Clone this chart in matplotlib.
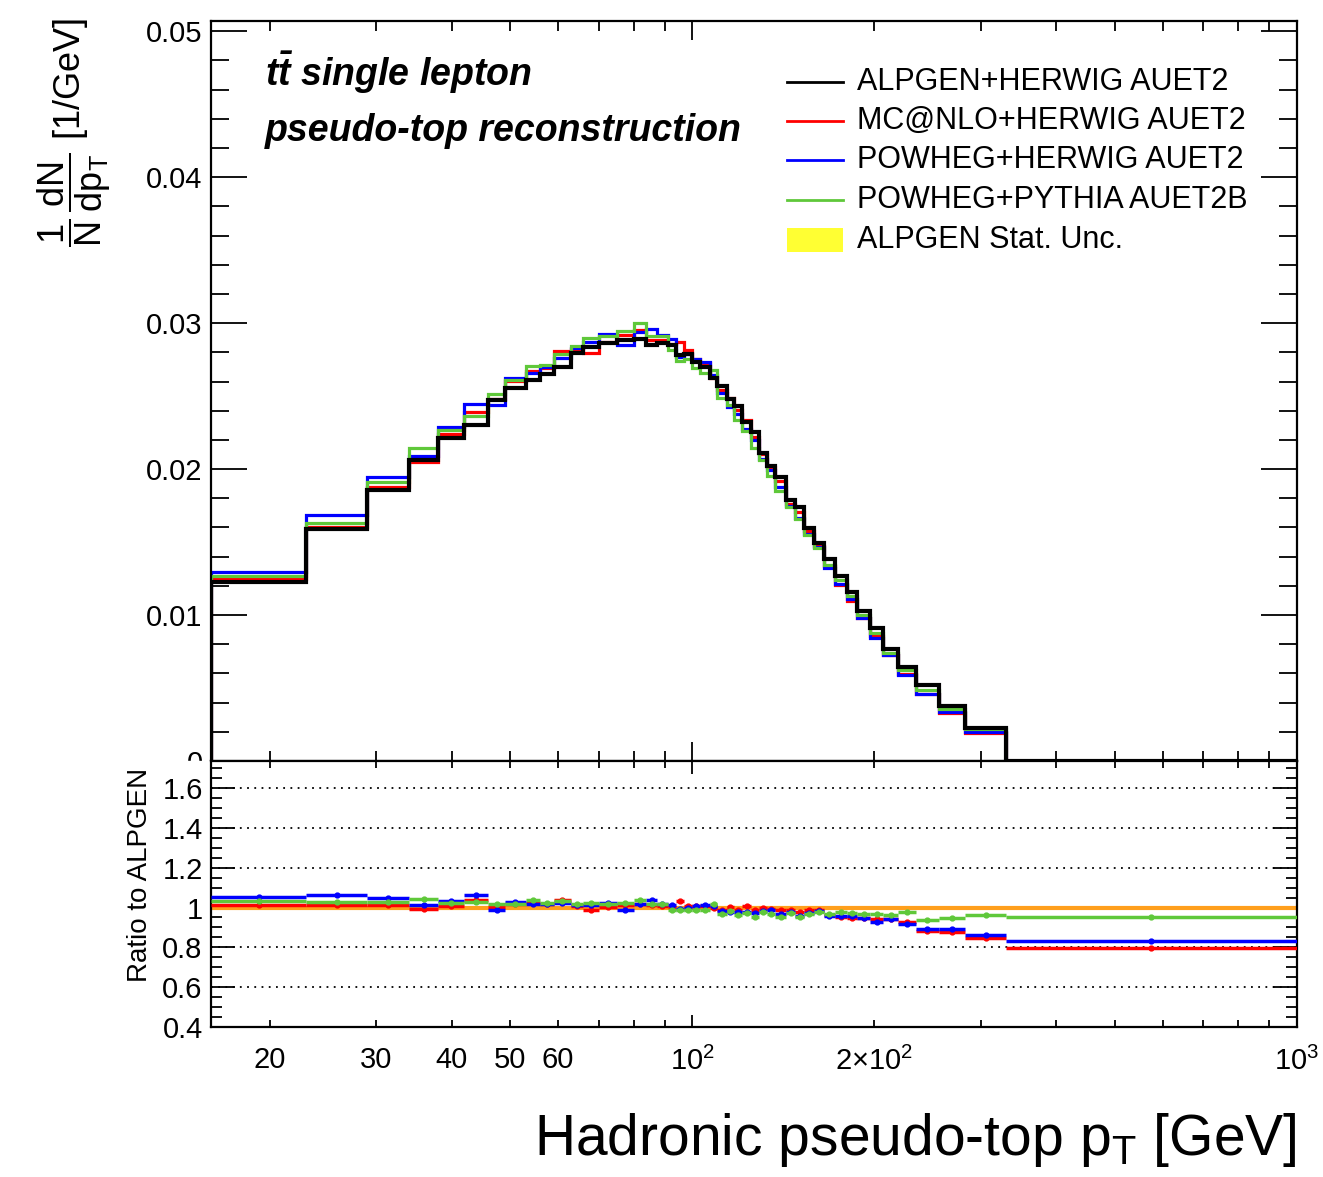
import matplotlib
matplotlib.use("Agg")
import matplotlib.pyplot as plt
import numpy as np
from matplotlib.patches import Rectangle

plt.rcParams["font.family"] = ["Liberation Sans", "DejaVu Sans"]
plt.rcParams["mathtext.fontset"] = "custom"
plt.rcParams["mathtext.rm"] = "Liberation Sans"
plt.rcParams["mathtext.it"] = "Liberation Sans:italic"
plt.rcParams["mathtext.bf"] = "Liberation Sans:bold"
plt.rcParams["mathtext.bfit"] = "Liberation Sans:italic:bold"

# bin edges [GeV]
edges = [16, 23, 29, 34, 38, 42, 46, 49, 53, 56, 59, 63, 66, 70, 75, 80, 84,
         87.5, 91, 94, 97, 100, 103, 107, 110, 114, 117, 121, 125, 129, 133,
         137, 143, 148, 153, 159, 165, 172, 180, 187, 197, 207, 219, 234, 256,
         283, 330, 1000]

# ALPGEN+HERWIG normalised distribution
alpgen = [0.01229, 0.01587, 0.01856, 0.02061, 0.02216, 0.02300, 0.02471,
          0.02558, 0.02612, 0.02649, 0.02699, 0.02797, 0.02835, 0.02863,
          0.02881, 0.02893, 0.02852, 0.02863, 0.02847, 0.02779, 0.02790,
          0.02733, 0.02699, 0.02626, 0.02567, 0.02483, 0.02430, 0.02323,
          0.02254, 0.02107, 0.02022, 0.01943, 0.01787, 0.01742, 0.01596,
          0.01491, 0.01382, 0.01268, 0.01157, 0.01031, 0.00910, 0.00769,
          0.00641, 0.00518, 0.00375, 0.00227, 0.00003]

# ratios to ALPGEN
ratio_mcnlo = [1.012, 1.012, 1.012, 0.995, 1.010, 1.040, 1.003, 1.017, 1.023,
               1.017, 1.040, 1.010, 0.986, 1.003, 1.012, 1.020, 1.012, 1.007,
               1.003, 1.032, 1.009, 1.007, 1.010, 1.000, 0.990, 1.003, 0.990,
               1.007, 0.986, 0.998, 0.995, 0.986, 0.986, 0.978, 0.986, 0.990,
               0.965, 0.952, 0.947, 0.947, 0.942, 0.942, 0.925, 0.884, 0.878,
               0.849, 0.796]
ratio_powheg_herwig = [1.054, 1.062, 1.049, 1.015, 1.033, 1.062, 0.986, 1.027,
                       1.017, 1.020, 1.023, 1.012, 1.012, 1.023, 0.990, 1.017,
                       1.037, 1.020, 1.015, 0.995, 1.000, 1.007, 1.012, 1.007,
                       0.983, 0.978, 0.978, 0.978, 0.975, 0.983, 0.986, 0.966,
                       0.978, 0.956, 0.973, 0.983, 0.955, 0.958, 0.958, 0.947,
                       0.927, 0.942, 0.918, 0.891, 0.893, 0.861, 0.831]
ratio_powheg_pythia = [1.034, 1.029, 1.029, 1.041, 1.023, 1.027, 1.017, 1.020,
                       1.037, 1.025, 1.033, 1.017, 1.023, 1.017, 1.023, 1.037,
                       1.020, 1.017, 0.990, 0.986, 0.986, 0.986, 0.986, 1.020,
                       0.970, 0.983, 0.961, 0.973, 0.950, 0.978, 0.966, 0.953,
                       0.973, 0.953, 0.970, 0.978, 0.970, 0.980, 0.975, 0.967,
                       0.967, 0.962, 0.977, 0.937, 0.947, 0.962, 0.953]

labels = ["ALPGEN+HERWIG AUET2", "MC@NLO+HERWIG AUET2",
          "POWHEG+HERWIG AUET2", "POWHEG+PYTHIA AUET2B"]
colors = ["black", "#ff0000", "#0000ff", "#5fc83a"]

edges = np.array(edges)
alpgen = np.array(alpgen)
ratios = [np.array(ratio_mcnlo), np.array(ratio_powheg_herwig),
          np.array(ratio_powheg_pythia)]
centers = np.sqrt(edges[:-1] * edges[1:])

W, H = 1323, 1177
fig = plt.figure(figsize=(W / 100, H / 100), dpi=100)
ax = fig.add_axes([211 / W, 1 - 761 / H, 1086 / W, 740 / H])
rax = fig.add_axes([211 / W, 1 - 1027 / H, 1086 / W, 266 / H], zorder=3)

# main panel
for r, c in zip(ratios, colors[1:]):
    ax.stairs(alpgen * r, edges, color=c, lw=2.3, baseline=0)
ax.stairs(alpgen, edges, color="black", lw=3.0, baseline=0)

ax.set_xscale("log")
ax.set_xlim(16, 1000)
ax.set_ylim(0, 0.0507)
ax.set_yticks([0, 0.01, 0.02, 0.03, 0.04, 0.05])
ax.set_yticklabels(["0", "0.01", "0.02", "0.03", "0.04", "0.05"])
ax.set_yticks(np.arange(0, 0.0507, 0.002), minor=True)

# ratio panel
rax.fill_between(edges, 0.994, 1.006, step="post", color="#ffff33", lw=0)
rax.axhline(1.0, color="#ff9f1c", lw=3.0, zorder=2)
for r, c in zip(ratios, colors[1:]):
    rax.hlines(r, edges[:-1], edges[1:], color=c, lw=2.5, zorder=3)
    rax.plot(centers, r, "o", color=c, ms=3.5, zorder=3)
for g in [0.6, 0.8, 1.2, 1.4, 1.6]:
    rax.axhline(g, color="black", lw=1.3, ls=(0, (1, 3)), zorder=1)

rax.set_xscale("log")
rax.set_xlim(16, 1000)
rax.set_ylim(0.4, 1.736)
rax.set_yticks([0.4, 0.6, 0.8, 1.0, 1.2, 1.4, 1.6])
rax.set_yticklabels(["0.4", "0.6", "0.8", "1", "1.2", "1.4", "1.6"])
rax.set_yticks(np.arange(0.4, 1.736, 0.05), minor=True)

for a in (ax, rax):
    a.set_xticks([100, 1000])
    a.set_xticks([20, 30, 40, 50, 60, 70, 80, 90,
                  200, 300, 400, 500, 600, 700, 800, 900], minor=True)
    for s in a.spines.values():
        s.set_linewidth(1.6)

rax.set_xticklabels([r"$10^{2}$", r"$10^{3}$"])
rax.set_xticklabels(["20", "30", "40", "50", "60", "", "", "",
                     r"$2{\times}10^{2}$", "", "", "", "", "", "", ""],
                    minor=True)
ax.set_xticklabels([])
ax.set_xticklabels([], minor=True)

ax.tick_params(axis="y", which="major", direction="in", length=26, width=1.3,
               left=True, right=True, labelsize=21, pad=6)
ax.tick_params(axis="y", which="minor", direction="in", length=13, width=1.3,
               left=True, right=True)
ax.tick_params(axis="x", which="major", direction="in", length=14, width=1.3,
               top=True, bottom=True)
ax.tick_params(axis="x", which="minor", direction="in", length=7, width=1.3,
               top=True, bottom=True)
rax.tick_params(axis="y", which="major", direction="in", length=17, width=1.3,
                left=True, right=True, labelsize=21, pad=6)
rax.tick_params(axis="y", which="minor", direction="in", length=8, width=1.3,
                left=True, right=True)
rax.tick_params(axis="x", which="major", direction="in", length=9, width=1.3,
                top=True, bottom=True, labelsize=21, pad=14)
rax.tick_params(axis="x", which="minor", direction="in", length=5, width=1.3,
                top=True, bottom=True, labelsize=21, pad=14)

# hide lower half of the main "0" label like the ROOT pad does
fig.patches.append(Rectangle((150 / W, 1 - 1027 / H), 61 / W, 266 / H,
                             transform=fig.transFigure, color="white",
                             zorder=2))

# legend
leg_y = [82, 121, 160, 200]
for lab, c, py in zip(labels, colors, leg_y):
    yf = (761 - py) / 740
    ax.plot([(787 - 211) / 1086, (843 - 211) / 1086], [yf, yf],
            transform=ax.transAxes, color=c, lw=2.0)
    ax.text((857 - 211) / 1086, yf, lab, transform=ax.transAxes,
            fontsize=22, va="center", ha="left")
ax.add_patch(Rectangle(((787 - 211) / 1086, (761 - 252) / 740), 56 / 1086,
                       24 / 740, transform=ax.transAxes, color="#ffff33",
                       lw=0))
ax.text((857 - 211) / 1086, (761 - 240) / 740, "ALPGEN Stat. Unc.",
        transform=ax.transAxes, fontsize=22, va="center", ha="left")

ax.text((265 - 211) / 1086, (761 - 73) / 740,
        r"$\mathbfit{t\bar{t}}$ single lepton", transform=ax.transAxes,
        fontsize=27, fontweight="bold", style="italic", va="center")
ax.text((265 - 211) / 1086, (761 - 131) / 740, "pseudo-top reconstruction",
        transform=ax.transAxes, fontsize=27, fontweight="bold",
        style="italic", va="center")

fig.text(74 / W, 1 - 18 / H,
         r"$\dfrac{1}{\mathrm{N}}\,\dfrac{\mathrm{dN}}{\mathrm{dp}_{\mathrm{T}}}$ [1/GeV]",
         rotation=90, ha="center", va="top", fontsize=26)
fig.text(140 / W, 1 - 875 / H, "Ratio to ALPGEN", rotation=90,
         ha="center", va="center", fontsize=20)
fig.text(1297 / W, 1 - 1155 / H,
         r"Hadronic pseudo-top p$_{\mathrm{T}}$ [GeV]",
         ha="right", va="baseline", fontsize=41)

fig.savefig("out.png", dpi=100)
